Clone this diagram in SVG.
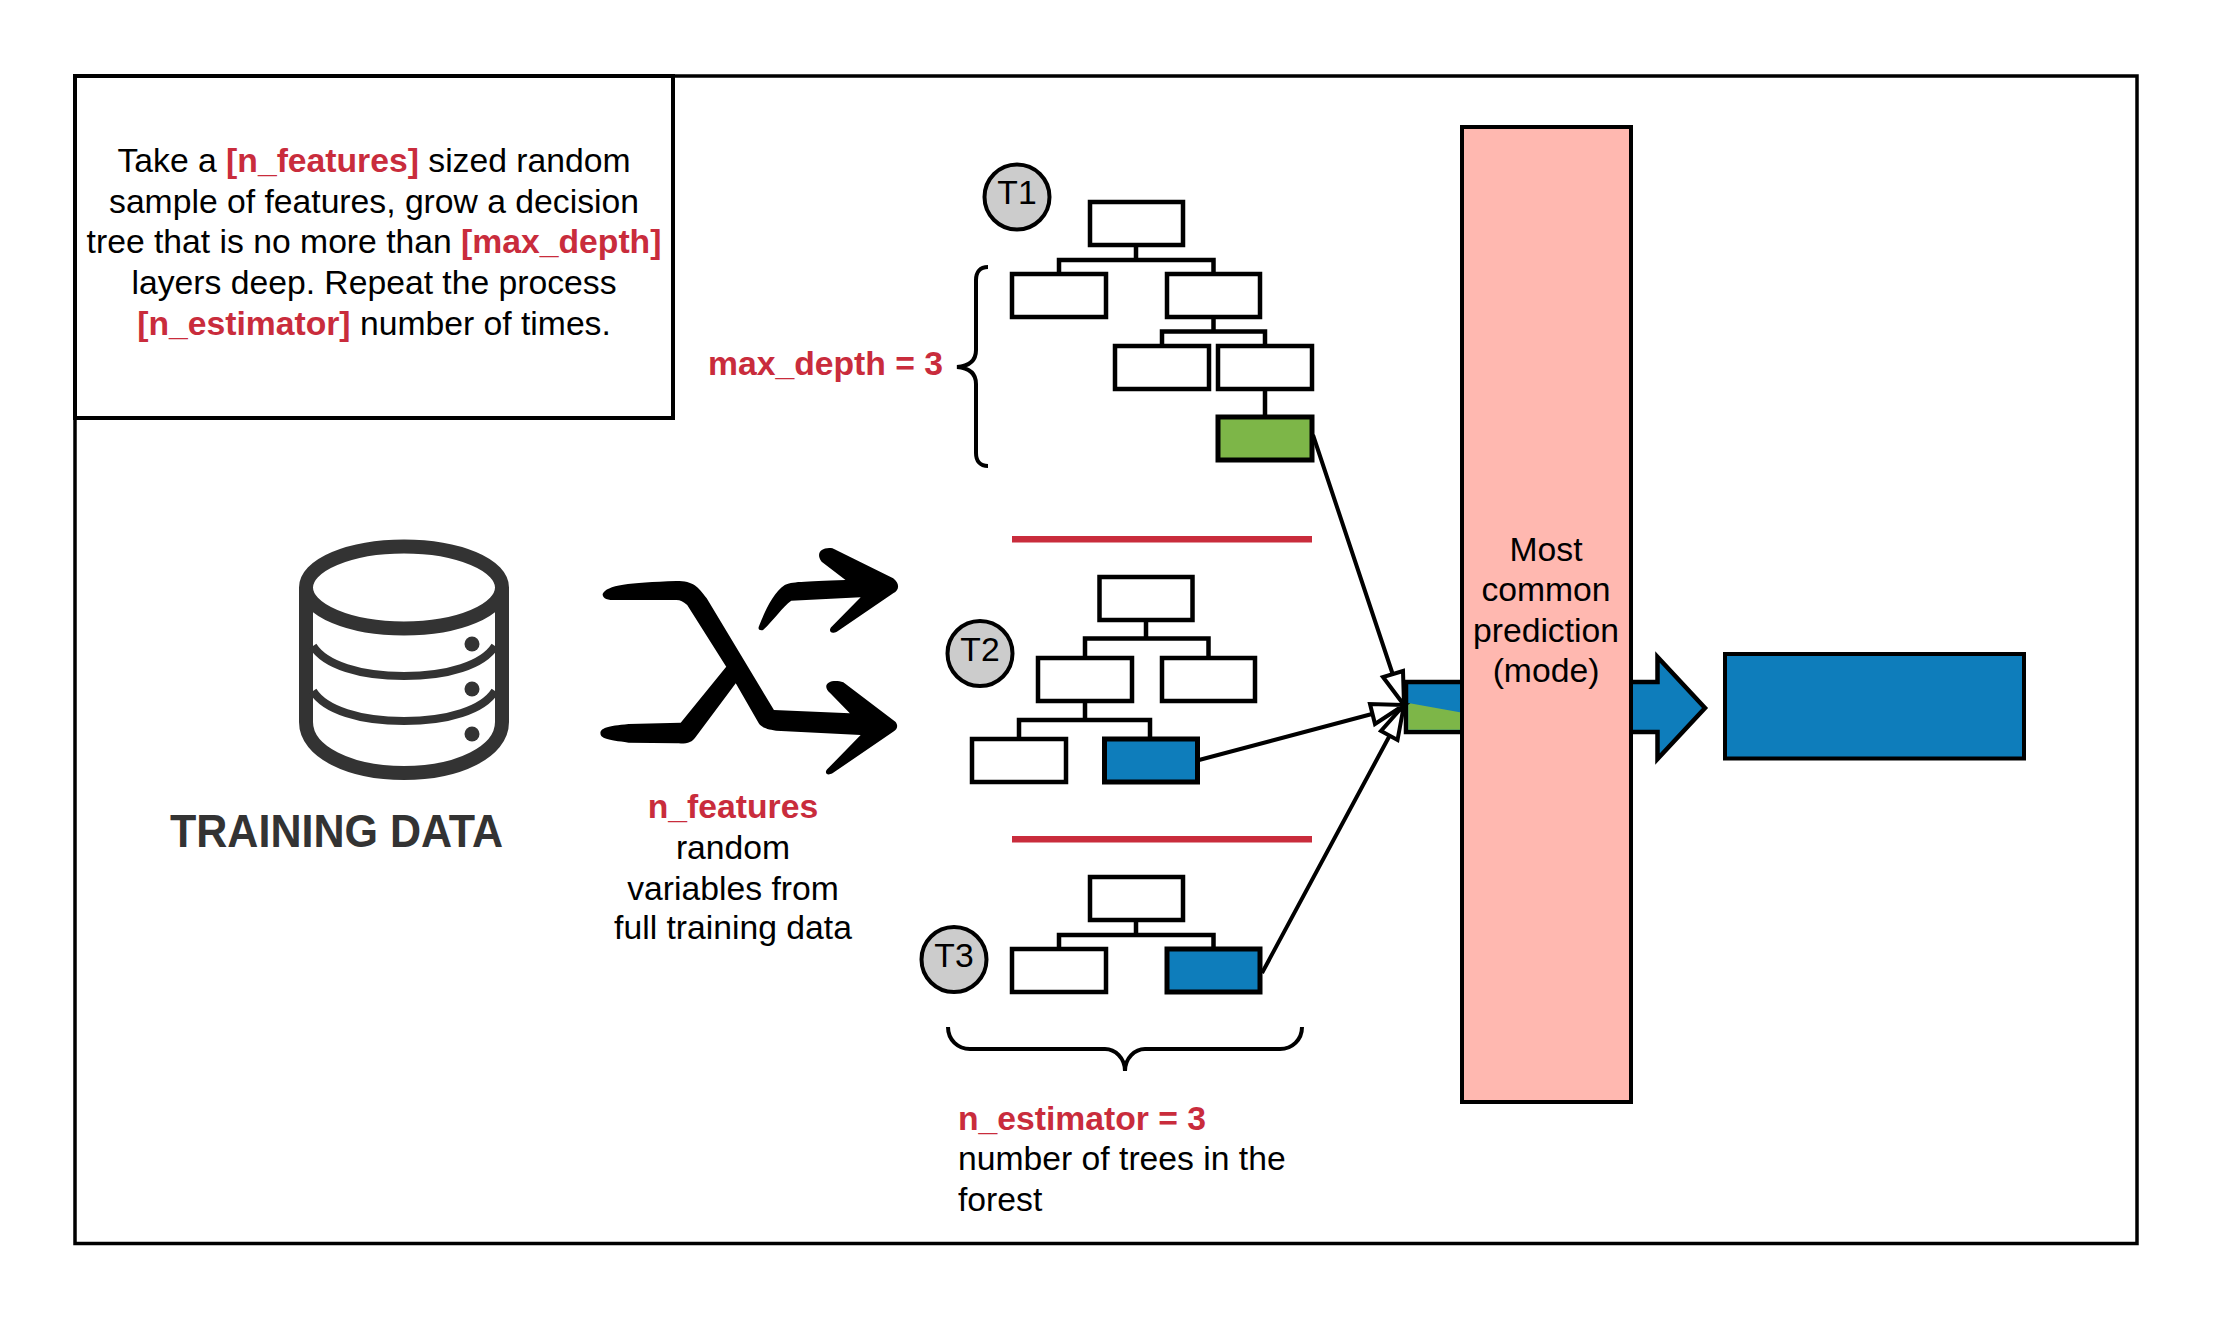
<svg xmlns="http://www.w3.org/2000/svg" width="2213" height="1329" viewBox="0 0 2213 1329">
<style>
text{font-family:"Liberation Sans",Arial,sans-serif;font-size:33.7px;fill:#000}
.r{fill:#c92c3c;font-weight:bold}
.m{text-anchor:middle}
.n{fill:#fff;stroke:#000;stroke-width:4.5}
.t{stroke-width:5}
.b{fill:#0e7dbb}
.g{fill:#7db648}
.c{fill:none;stroke:#000;stroke-width:4.5}
.o{fill:#ccc;stroke:#000;stroke-width:4}
.h{fill:#fff;stroke:#000;stroke-width:4;stroke-linejoin:miter}
.e{fill:none;stroke:#000;stroke-width:4;stroke-linecap:butt}
.d{fill:none;stroke:#333;stroke-width:14}
</style>
<rect width="2213" height="1329" fill="#fff"/>
<rect id="frame" x="75" y="76" width="2062" height="1167.500" fill="#fff" stroke="#000" stroke-width="3.500"/>
<g id="note">
<rect x="75" y="76" width="598" height="342" fill="#fff" stroke="#000" stroke-width="4"/>
<text class="m" x="374" y="172">Take a <tspan class="r">[n_features]</tspan> sized random</text>
<text class="m" x="374" y="212.500">sample of features, grow a decision</text>
<text class="m" x="374" y="253">tree that is no more than <tspan class="r">[max_depth]</tspan></text>
<text class="m" x="374" y="293.500">layers deep. Repeat the process</text>
<text class="m" x="374" y="335"><tspan class="r">[n_estimator]</tspan> number of times.</text>
</g>
<g id="database">
<ellipse class="d" cx="404" cy="587.500" rx="98" ry="41"/>
<path class="d" d="M306 587V722C306 752 350 773 404 773S502 752 502 722V587"/>
<path d="M313 646C325 665 360 676 404 676S483 665 495 646M313 691C325 710 360 721 404 721S483 710 495 691" fill="none" stroke="#333" stroke-width="8"/>
<ellipse cx="472" cy="644" rx="7.500" ry="7.500" fill="#333"/>
<ellipse cx="472" cy="689" rx="7.500" ry="7.500" fill="#333"/>
<ellipse cx="472" cy="734" rx="7.500" ry="7.500" fill="#333"/>
<text x="170" y="847" style="font-size:46px;font-weight:bold;fill:#333" textLength="333" lengthAdjust="spacingAndGlyphs">TRAINING DATA</text>
</g>
<g id="shuffle">
<g transform="translate(260 520) scale(.4337 .3333)" fill="#000">
<path d="M790 222C800 195 850 188 960 183C1000 183 1010 200 1030 235L1185 570L1360 580L1315 520C1290 490 1320 475 1345 487L1465 605C1472 615 1470 630 1460 635L1320 760C1305 770 1300 755 1310 745L1385 645L1190 632C1165 628 1155 620 1150 610L1097 490L1005 650C995 668 985 672 960 670L850 668C800 660 785 655 785 640C785 625 800 618 850 612L970 608L1075 440L985 255C975 245 970 240 960 240L815 240C795 240 790 232 790 222Z"/>
<path d="M1150 320C1165 270 1185 215 1210 195C1225 185 1250 185 1350 180L1295 125C1280 100 1295 80 1320 85L1460 175C1475 190 1475 210 1460 220L1330 335C1315 345 1310 330 1318 320L1385 232L1225 242C1205 260 1185 300 1160 330C1152 332 1148 328 1150 320Z"/>
</g>
<text class="r m" x="733" y="817.500">n_features</text>
<text class="m" x="733" y="859">random</text>
<text class="m" x="733" y="899.500">variables from</text>
<text class="m" x="733" y="939">full training data</text>
</g>
<g id="tree1">
<circle class="o" cx="1017" cy="197" r="32.500"/>
<text class="m" x="1017" y="204">T1</text>
<path class="c" d="M1136 245V260M1059 272V260H1213.500V272M1213.500 317V331.500M1162 344V331.500H1265V344M1265 389V417"/>
<rect class="n" x="1090" y="202" width="93" height="43"/>
<rect class="n" x="1012" y="274" width="94" height="43"/>
<rect class="n" x="1167" y="274" width="93" height="43"/>
<rect class="n" x="1115" y="346" width="94" height="43"/>
<rect class="n" x="1218" y="346" width="94" height="43"/>
<rect class="n g t" x="1218" y="417" width="94" height="43"/>
</g>
<g id="tree2">
<circle class="o" cx="980" cy="653.500" r="32.500"/>
<text class="m" x="980" y="661">T2</text>
<path class="c" d="M1146 620V638.500M1085 656V638.500H1208.500V656M1085 701V720M1019 738V720H1150V738"/>
<rect class="n" x="1099.500" y="577" width="93" height="43"/>
<rect class="n" x="1038" y="658" width="94" height="43"/>
<rect class="n" x="1162" y="658" width="93" height="43"/>
<rect class="n" x="972" y="739" width="94" height="43"/>
<rect class="n b t" x="1104.500" y="739" width="93" height="43"/>
</g>
<g id="tree3">
<circle class="o" cx="954" cy="959.500" r="32.500"/>
<text class="m" x="954" y="967">T3</text>
<path class="c" d="M1136 920V935M1059 948V935H1213.500V948"/>
<rect class="n" x="1090" y="877" width="93" height="43"/>
<rect class="n" x="1012" y="949" width="94" height="43"/>
<rect class="n b t" x="1167" y="949" width="93" height="43"/>
</g>
<g id="dividers" fill="#c92c3c">
<rect x="1012" y="536" width="300" height="6.500"/>
<rect x="1012" y="836" width="300" height="6.500"/>
</g>
<g id="max-depth">
<path class="e" d="M988 267C980 267 976 272 976 280V350C976 360 970 366 957 367C970 368 976 374 976 384V453C976 461 980 466 988 466"/>
<text class="r" x="708" y="374.500">max_depth = 3</text>
</g>
<g id="n-estimator">
<path class="e" d="M948 1027C948 1040 958 1049 970 1049H1105C1115 1049 1125 1058 1125 1071C1125 1058 1135 1049 1145 1049H1280C1292 1049 1302 1040 1302 1027"/>
<text class="r" x="958" y="1130">n_estimator = 3</text>
<text x="958" y="1170">number of trees in the</text>
<text x="958" y="1211">forest</text>
</g>
<g id="vote">
<rect class="b" x="1406" y="682" width="60" height="50" stroke="#000" stroke-width="4.500"/>
<path class="g" d="M1408.300 703L1464 713V729.700H1408.300Z"/>
</g>
<g id="connectors">
<path d="M1313 435L1393 675M1199 760L1372 714M1262 973L1390 735" fill="none" stroke="#000" stroke-width="4"/>
<path class="h" d="M1404 705L1383 677L1403 671Z"/>
<path class="h" d="M1404 705L1370 704L1375 724Z"/>
<path class="h" d="M1404 705L1381 731L1397.500 740Z"/>
</g>
<g id="mode">
<rect x="1462" y="127" width="169" height="975" fill="#ffb8b0" stroke="#000" stroke-width="4"/>
<text class="m" x="1546" y="560.500">Most</text>
<text class="m" x="1546" y="601">common</text>
<text class="m" x="1546" y="641.500">prediction</text>
<text class="m" x="1546" y="682">(mode)</text>
</g>
<g id="output">
<path class="b" d="M1633 682H1657.500V657L1705 708L1657.500 759V732H1633" stroke="#000" stroke-width="4.500"/>
<rect class="b" x="1725" y="654" width="299" height="104.500" stroke="#000" stroke-width="4"/>
</g>
</svg>
